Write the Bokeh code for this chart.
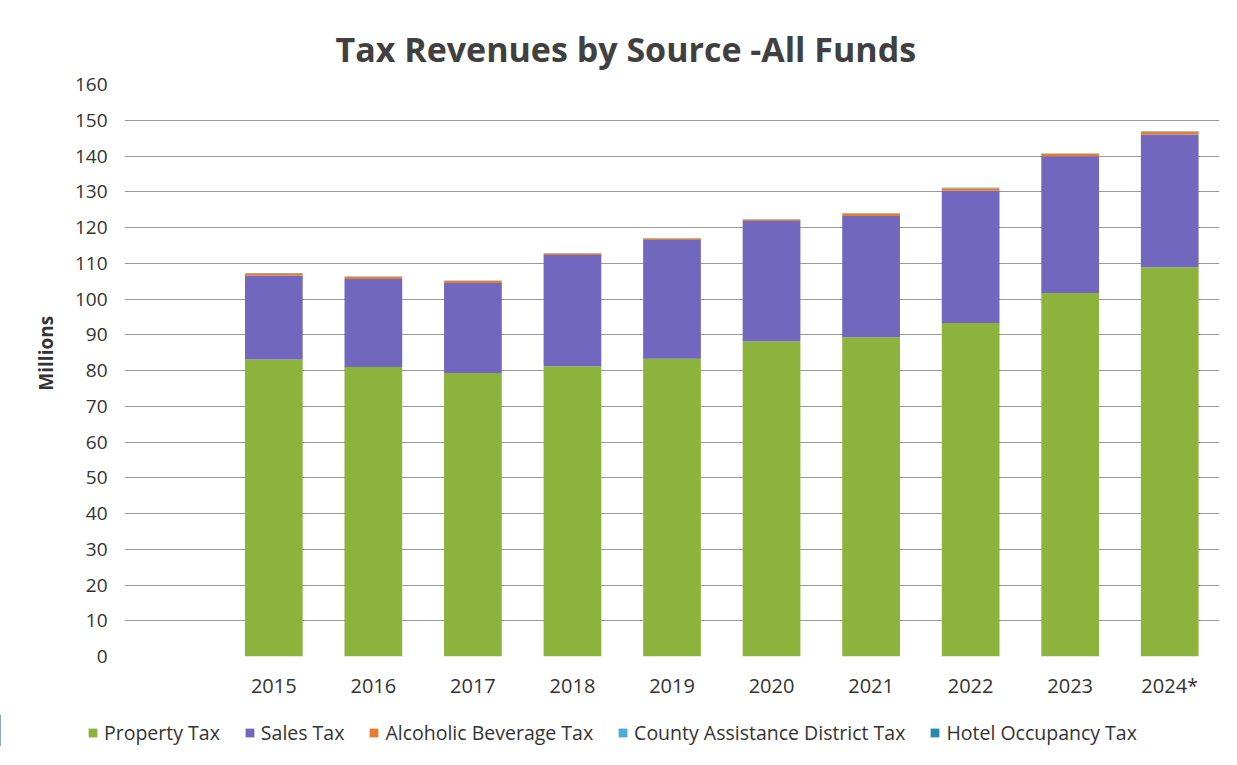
from bokeh.plotting import figure
from bokeh.models import ColumnDataSource, Legend, LegendItem, FactorRange
from bokeh.layouts import column
from bokeh.embed import file_html
from bokeh.resources import INLINE

years = [" ", "2015", "2016", "2017", "2018", "2019", "2020", "2021", "2022", "2023", "2024*"]
property_tax = [0, 83.1, 81.0, 79.3, 81.2, 83.3, 88.2, 89.3, 93.3, 101.7, 108.9]
sales_tax = [0, 23.5, 24.6, 25.2, 31.1, 33.2, 33.6, 33.9, 37.0, 38.2, 37.1]
alcohol_tax = [0, 0.6, 0.6, 0.6, 0.4, 0.4, 0.4, 0.7, 0.7, 0.7, 0.8]
county_assist_tax = [0, 0.05, 0.05, 0.05, 0.05, 0.05, 0.05, 0.05, 0.05, 0.05, 0.05]
hotel_tax = [0, 0.05, 0.05, 0.05, 0.05, 0.05, 0.05, 0.05, 0.05, 0.05, 0.05]

series = ["property", "sales", "alcohol", "county", "hotel"]
labels = ["Property Tax", "Sales Tax", "Alcoholic Beverage Tax",
          "County Assistance District Tax", "Hotel Occupancy Tax"]
colors = ["#8CB43C", "#7267BE", "#E57F2E", "#4BACD6", "#2C88AE"]
y_ticks = list(range(0, 161, 10))

source = ColumnDataSource(dict(year=years, property=property_tax, sales=sales_tax,
                               alcohol=alcohol_tax, county=county_assist_tax, hotel=hotel_tax))

FONT = "Open Sans"

p = figure(x_range=FactorRange(*years), y_range=(0, 160),
           frame_width=1095, frame_height=572,
           output_backend="svg", toolbar_location=None,
           title="Tax Revenues by Source -All Funds",
           min_border_left=124, min_border_right=4, min_border_top=84, min_border_bottom=58)
p.outline_line_color = None
p.background_fill_color = "white"
p.frame_align = False

p.title.align = "left"
p.title.offset = 211
p.title.text_font = FONT
p.title.text_font_size = "34px"
p.title.text_font_style = "bold"
p.title.text_color = "#404040"
p.title.standoff = 25

p.vbar_stack(series, x="year", width=0.58, color=colors, source=source, line_color=None)

p.yaxis.ticker = y_ticks
p.yaxis.axis_line_color = None
p.yaxis.major_tick_line_color = None
p.yaxis.minor_tick_line_color = None
p.yaxis.major_label_text_font = FONT
p.yaxis.major_label_text_font_size = "19px"
p.yaxis.major_label_text_color = "#333333"
p.yaxis.major_label_standoff = 11
p.yaxis.axis_label = "\u00a0" * 7 + "Millions"
p.yaxis.axis_label_text_font = FONT
p.yaxis.axis_label_text_font_size = "19px"
p.yaxis.axis_label_text_font_style = "bold"
p.yaxis.axis_label_text_color = "#333333"
p.yaxis.axis_label_standoff = 13

p.xaxis.axis_line_color = None
p.xaxis.major_tick_line_color = None
p.xaxis.major_label_text_font = FONT
p.xaxis.major_label_text_font_size = "20px"
p.xaxis.major_label_text_color = "#333333"
p.xaxis.major_label_standoff = 9

p.xgrid.grid_line_color = None
p.ygrid.grid_line_color = "#9a9a9a"
p.ygrid.grid_line_width = 1

# legend strip
pl = figure(width=1223, height=32, output_backend="svg", toolbar_location=None,
            x_axis_location=None, y_axis_location=None, min_border=0,
            x_range=(0, 1), y_range=(0, 1))
pl.frame_align = False
pl.outline_line_color = None
pl.xgrid.grid_line_color = None
pl.ygrid.grid_line_color = None
items = []
for lab, c in zip(labels, colors):
    r = pl.vbar(x=[-10], top=[1], bottom=[0], width=0.5, color=c, line_color=None)
    items.append(LegendItem(label=lab, renderers=[r]))
leg = Legend(items=items, orientation="horizontal", location=(87, 0),
             label_text_font=FONT, label_text_font_size="19.5px", label_text_color="#333333",
             glyph_width=11, glyph_height=11, spacing=24, padding=0, margin=0,
             border_line_color=None, background_fill_alpha=0, label_standoff=6)
pl.add_layout(leg, "center")

open("out.html", "w").write(file_html(column(p, pl, spacing=0), INLINE))
